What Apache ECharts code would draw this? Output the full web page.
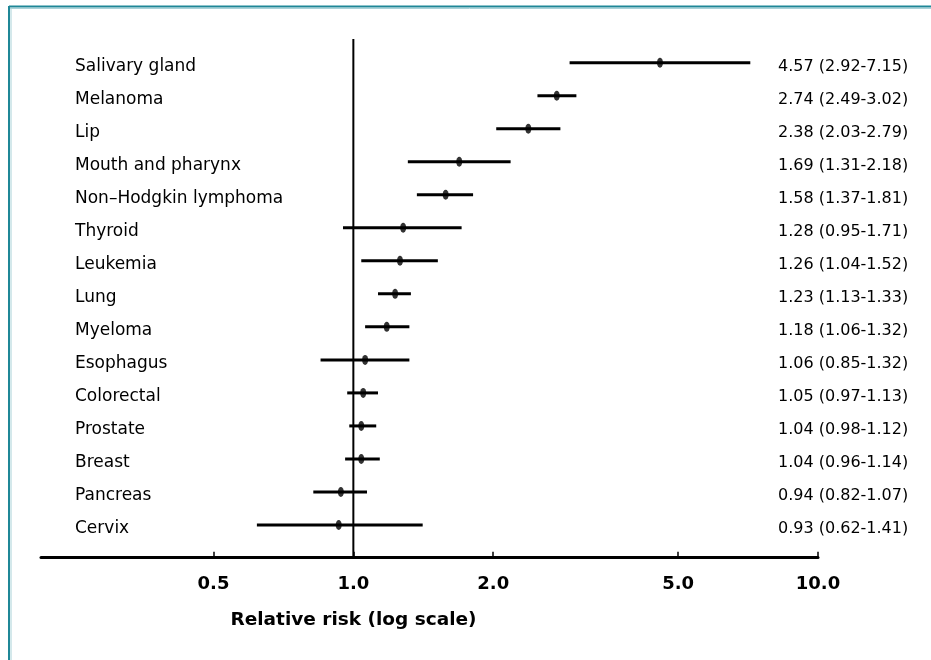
<!DOCTYPE html>
<html>
<head>
<meta charset="utf-8">
<style>
html,body{margin:0;padding:0;background:#fff;}
#chart{width:931px;height:660px;}
</style>
<script src="https://cdn.jsdelivr.net/npm/echarts@6/dist/echarts.min.js"></script>
</head>
<body>
<div id="chart"></div>
<script>
const categories = ['Salivary gland','Melanoma','Lip','Mouth and pharynx','Non–Hodgkin lymphoma','Thyroid','Leukemia','Lung','Myeloma','Esophagus','Colorectal','Prostate','Breast','Pancreas','Cervix'];
const riskValues = [4.57, 2.74, 2.38, 1.69, 1.58, 1.28, 1.26, 1.23, 1.18, 1.06, 1.05, 1.04, 1.04, 0.94, 0.93];
const lowerCI = [2.92, 2.49, 2.03, 1.31, 1.37, 0.95, 1.04, 1.13, 1.06, 0.85, 0.97, 0.98, 0.96, 0.82, 0.62];
const upperCI = [7.15, 3.02, 2.79, 2.18, 1.81, 1.71, 1.52, 1.33, 1.32, 1.32, 1.13, 1.12, 1.14, 1.07, 1.41];
const tickValues = [0.5, 1, 2, 5, 10];
const referenceValue = 1;
const axisMin = 0.2127, axisMax = 10;

const ciLabels = riskValues.map((v, i) => v.toFixed(2) + ' (' + lowerCI[i].toFixed(2) + '-' + upperCI[i].toFixed(2) + ')');
const barData = categories.map((c, i) => [lowerCI[i], upperCI[i], i]);
const pointData = categories.map((c, i) => [riskValues[i], i]);

const FONT = 'DejaVu Sans';
const chart = echarts.init(document.getElementById('chart'));
const L = 41, R = 113;
chart.setOption({
  animation: false,
  backgroundColor: '#fff',
  graphic: [
    {type: 'line', shape: {x1: 9, y1: 6.5, x2: 931, y2: 6.5}, style: {stroke: '#1f8797', lineWidth: 2}},
    {type: 'line', shape: {x1: 8, y1: 8.5, x2: 931, y2: 8.5}, style: {stroke: '#a9d2d8', lineWidth: 1}},
    {type: 'line', shape: {x1: 9, y1: 6, x2: 9, y2: 660}, style: {stroke: '#1f8797', lineWidth: 2}},
    {type: 'line', shape: {x1: 11, y1: 8, x2: 11, y2: 660}, style: {stroke: '#a9d2d8', lineWidth: 1}}
  ],
  grid: [
    {left: L, right: R, top: 39, bottom: 102.3},
    {left: L, right: R, top: 46.2, bottom: 118.5},
    {left: L, right: R, top: 50.2, bottom: 114.5}
  ],
  xAxis: [
    {
      gridIndex: 0, type: 'log', logBase: 10, min: axisMin, max: axisMax,
      axisLine: {show: true, onZero: false, lineStyle: {color: '#000', width: 3}},
      axisTick: {show: true, inside: true, length: 6, customValues: tickValues, lineStyle: {color: '#000', width: 1.5}},
      axisLabel: {show: true, customValues: tickValues, formatter: v => Number(v).toFixed(1), color: '#000', fontFamily: FONT, fontWeight: 'bold', fontSize: 18, margin: 18},
      splitLine: {show: false}, minorTick: {show: false}, minorSplitLine: {show: false},
      name: 'Relative risk (log scale)', nameLocation: 'middle', nameGap: 53,
      nameTextStyle: {color: '#000', fontFamily: FONT, fontWeight: 'bold', fontSize: 18.5, padding: [0, 152, 0, 0]}
    },
    {
      gridIndex: 1, type: 'log', logBase: 10, min: axisMin, max: axisMax, show: false,
      splitLine: {show: false}
    },
    {
      gridIndex: 2, type: 'log', logBase: 10, min: axisMin, max: axisMax, show: false,
      splitLine: {show: false}
    }
  ],
  yAxis: [
    {gridIndex: 0, type: 'value', min: 0, max: 1, show: false, splitLine: {show: false}},
    {
      gridIndex: 1, type: 'category', data: categories, inverse: true, show: false,
      splitLine: {show: false}
    },
    {
      gridIndex: 2, type: 'category', data: categories, inverse: true, position: 'left',
      axisLine: {show: false}, axisTick: {show: false}, splitLine: {show: false},
      axisLabel: {inside: true, margin: 34, align: 'left', color: '#000', fontFamily: FONT, fontSize: 17}
    },
    {
      gridIndex: 2, type: 'category', data: ciLabels, inverse: true, position: 'right',
      axisLine: {show: false}, axisTick: {show: false}, splitLine: {show: false},
      axisLabel: {inside: true, margin: 40, align: 'left', color: '#000', fontFamily: FONT, fontSize: 16}
    }
  ],
  series: [
    {
      type: 'line', xAxisIndex: 0, yAxisIndex: 0,
      data: [[referenceValue, 0], [referenceValue, 1]],
      symbol: 'none', lineStyle: {color: '#000', width: 2}, silent: true
    },
    {
      type: 'custom', xAxisIndex: 1, yAxisIndex: 1,
      data: barData, encode: {x: [0, 1], y: 2},
      renderItem: function (params, api) {
        const a = api.coord([api.value(0), api.value(2)]);
        const b = api.coord([api.value(1), api.value(2)]);
        return {type: 'line', shape: {x1: a[0], y1: a[1], x2: b[0], y2: b[1]}, style: {stroke: '#000', lineWidth: 3}};
      }
    },
    {
      type: 'scatter', xAxisIndex: 1, yAxisIndex: 1,
      data: pointData, symbol: 'circle', symbolSize: [6, 10],
      itemStyle: {color: '#000'}, z: 5
    }
  ]
});
</script>
</body>
</html>
